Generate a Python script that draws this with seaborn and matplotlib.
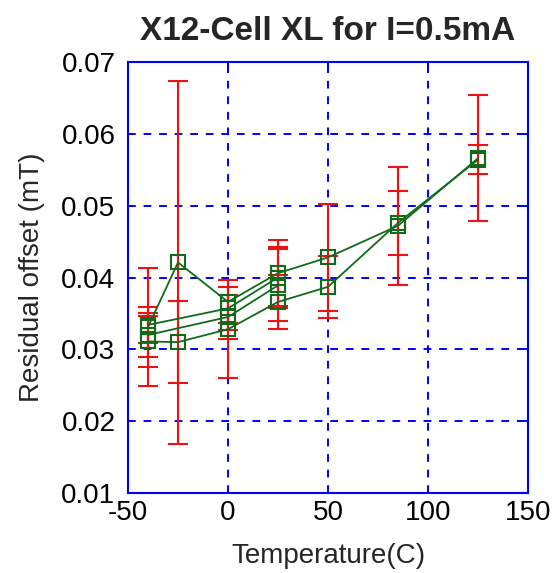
import numpy as np
import pandas as pd
import matplotlib
matplotlib.use('Agg')
import matplotlib.pyplot as plt
import seaborn as sns

# olculen sicakliklar (C)
temps_full = [-40, -25, 0, 25, 50, 85, 125]
temps_short = [-40, 0, 25]

# her hucre icin residual offset (mT) ve hata cubugu (+/-)
cell1_offset = [0.0331, 0.0421, 0.0366, 0.0406, 0.0428, 0.0472, 0.0566]
cell1_err = [0.0082, 0.0253, 0.0030, 0.0046, 0.0074, 0.0082, 0.0088]
cell2_offset = [0.0311, 0.0310, 0.0328, 0.0366, 0.0387, 0.0476, 0.0564]
cell2_err = [0.0035, 0.0057, 0.0068, 0.0037, 0.0043, 0.0044, 0.0020]
cell3_offset = [0.0320, 0.0345, 0.0389]
cell3_err = [0.0030, 0.0030, 0.0050]
cell4_offset = [0.0334, 0.0357, 0.0400]
cell4_err = [0.0025, 0.0030, 0.0043]

frames = []
for name, t, v, e in [("cell1", temps_full, cell1_offset, cell1_err),
                      ("cell2", temps_full, cell2_offset, cell2_err),
                      ("cell3", temps_short, cell3_offset, cell3_err),
                      ("cell4", temps_short, cell4_offset, cell4_err)]:
    frames.append(pd.DataFrame({"cell": name, "temp": t, "offset": v, "err": e}))
df = pd.concat(frames, ignore_index=True)

sns.set_style("white")
plt.rcParams['font.family'] = ['Liberation Sans', 'DejaVu Sans']
plt.rcParams['axes.unicode_minus'] = False

GREEN = "#0f6b1a"
BLUE = "#0000ff"
RED = "#ee1111"

fig = plt.figure(figsize=(5.53, 5.73), dpi=100)
ax = fig.add_axes([128 / 553, 1 - 493 / 573, 400 / 553, 431 / 573])

# hata cubuklari (kirmizi)
ax.errorbar(df["temp"], df["offset"], yerr=df["err"], fmt="none",
            ecolor=RED, elinewidth=1.5, capsize=7, capthick=1.5, zorder=2)

# cizgiler + kare isaretler
sns.lineplot(data=df, x="temp", y="offset", hue="cell", units="cell",
             estimator=None, sort=False,
             palette={c: GREEN for c in df["cell"].unique()},
             marker="s", markersize=10, markerfacecolor="none",
             markeredgecolor=GREEN, markeredgewidth=1.5,
             linewidth=1.3, legend=False, ax=ax, zorder=3)

ax.set_xlim(-50, 150)
ax.set_ylim(0.01, 0.07)
ax.set_xticks([-50, 0, 50, 100, 150])
ax.set_yticks([0.01, 0.02, 0.03, 0.04, 0.05, 0.06, 0.07])
ax.set_yticklabels([f"{v:.2f}" for v in ax.get_yticks()])
ax.grid(True, color=BLUE, linestyle=(0, (4, 4)), linewidth=1.4)
ax.set_axisbelow(True)
for sp in ax.spines.values():
    sp.set_color(BLUE)
    sp.set_linewidth(1.5)
    sp.set_visible(True)
ax.tick_params(direction="in", length=7, width=1.4, color=BLUE,
               labelcolor="black", labelsize=20, top=True, right=True)
ax.tick_params(axis="x", pad=5)
ax.tick_params(axis="y", pad=9)

ax.set_xlabel("Temperature(C)", fontsize=20, labelpad=12)
ax.set_ylabel("Residual offset (mT)", fontsize=20, labelpad=12)
ax.set_title("X12-Cell XL for I=0.5mA", fontsize=24, fontweight="bold", pad=16)

fig.savefig("out.png", dpi=100)
